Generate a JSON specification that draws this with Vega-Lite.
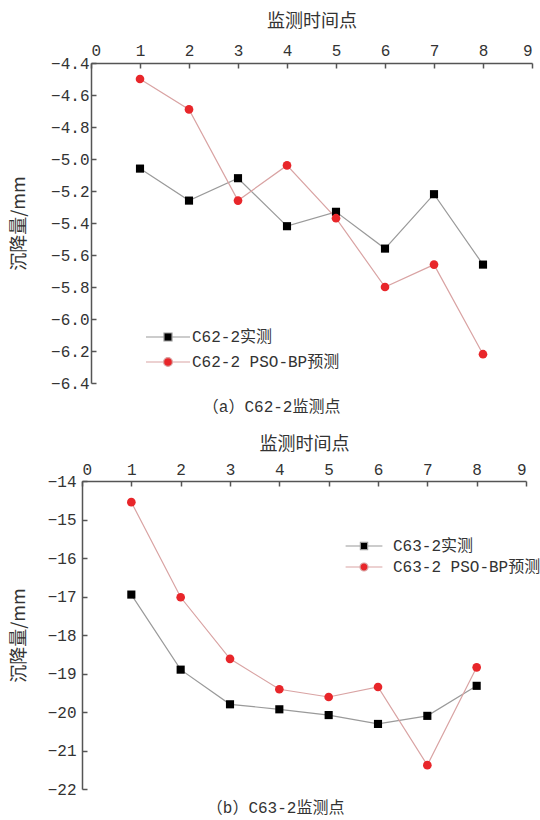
{
  "$schema": "https://vega.github.io/schema/vega-lite/v6.json",
  "background": "white",
  "padding": {"left": 10, "top": 12, "right": 0, "bottom": 0},
  "config": {
    "font": "Liberation Mono, Noto Sans CJK SC",
    "view": {"stroke": null},
    "axis": {
      "grid": false,
      "domainColor": "#555555",
      "domainWidth": 1.5,
      "tickColor": "#555555",
      "tickWidth": 1.5,
      "tickSize": -5,
      "labelFont": "Liberation Mono, Noto Sans CJK SC",
      "labelFontSize": 16,
      "labelColor": "#333333",
      "titleFont": "Noto Sans CJK SC",
      "titleFontSize": 18,
      "titleFontWeight": "normal",
      "titleColor": "#333333"
    },
    "legend": {
      "orient": "none",
      "padding": 0,
      "symbolSize": 256,
      "symbolOpacity": 1,
      "symbolStrokeWidth": 1.2,
      "labelFont": "Liberation Mono, Noto Sans CJK SC",
      "labelFontSize": 16,
      "labelColor": "#333333"
    },
    "title": {
      "font": "Liberation Mono, Noto Sans CJK SC",
      "fontSize": 16,
      "fontWeight": "normal",
      "color": "#333333"
    }
  },
  "columns": 1,
  "align": "none",
  "spacing": 20,
  "resolve": {"scale": {"color": "independent", "shape": "independent", "stroke": "independent"}, "legend": {"color": "independent", "shape": "independent", "stroke": "independent"}},
  "concat": [
    {
      "width": 441,
      "height": 320,
      "title": {"text": "（a）C62-2监测点", "orient": "bottom", "frame": "bounds", "anchor": "middle", "offset": 8},
      "data": {
        "values": [
          {"t": 1, "v": -5.06, "s": "C62-2实测"},
          {"t": 2, "v": -5.26, "s": "C62-2实测"},
          {"t": 3, "v": -5.12, "s": "C62-2实测"},
          {"t": 4, "v": -5.42, "s": "C62-2实测"},
          {"t": 5, "v": -5.33, "s": "C62-2实测"},
          {"t": 6, "v": -5.56, "s": "C62-2实测"},
          {"t": 7, "v": -5.22, "s": "C62-2实测"},
          {"t": 8, "v": -5.66, "s": "C62-2实测"},
          {"t": 1, "v": -4.50, "s": "C62-2 PSO-BP预测"},
          {"t": 2, "v": -4.69, "s": "C62-2 PSO-BP预测"},
          {"t": 3, "v": -5.26, "s": "C62-2 PSO-BP预测"},
          {"t": 4, "v": -5.04, "s": "C62-2 PSO-BP预测"},
          {"t": 5, "v": -5.37, "s": "C62-2 PSO-BP预测"},
          {"t": 6, "v": -5.80, "s": "C62-2 PSO-BP预测"},
          {"t": 7, "v": -5.66, "s": "C62-2 PSO-BP预测"},
          {"t": 8, "v": -6.22, "s": "C62-2 PSO-BP预测"}
        ]
      },
      "encoding": {
        "x": {
          "field": "t", "type": "quantitative",
          "scale": {"domain": [0, 9], "nice": false, "zero": false},
          "axis": {"orient": "top", "title": "监测时间点", "values": [0, 1, 2, 3, 4, 5, 6, 7, 8, 9], "format": "d", "labelPadding": 10, "titlePadding": 12}
        },
        "y": {
          "field": "v", "type": "quantitative",
          "scale": {"domain": [-6.4, -4.4], "nice": false, "zero": false},
          "axis": {"title": "沉降量/mm", "values": [-6.4, -6.2, -6.0, -5.8, -5.6, -5.4, -5.2, -5.0, -4.8, -4.6, -4.4], "format": ".1f", "labelPadding": 7, "titlePadding": 22}
        }
      },
      "layer": [
        {
          "mark": {"type": "line", "strokeWidth": 1.2},
          "encoding": {
            "stroke": {"field": "s", "type": "nominal", "scale": {"domain": ["C62-2实测", "C62-2 PSO-BP预测"], "range": ["#9a9a9a", "#d9a3a3"]}}
          }
        },
        {
          "transform": [{"filter": {"field": "s", "equal": "C62-2实测"}}],
          "mark": {"type": "point", "shape": "square", "filled": true, "opacity": 1, "size": 66, "color": "#000000"}
        },
        {
          "transform": [{"filter": {"field": "s", "equal": "C62-2 PSO-BP预测"}}],
          "mark": {"type": "point", "shape": "circle", "filled": true, "opacity": 1, "size": 75, "color": "#e8262a"}
        },
        {
          "mark": {"type": "point", "filled": true, "opacity": 0},
          "encoding": {
            "color": {
              "field": "s", "type": "nominal",
              "scale": {"domain": ["C62-2实测", "C62-2 PSO-BP预测"], "range": ["#000000", "#e8262a"]},
              "legend": {"title": null, "legendX": 68, "legendY": 265, "rowPadding": 8, "labelOffset": 15, "symbolOpacity": 1, "symbolStrokeWidth": 1.2}
            },
            "shape": {
              "field": "s", "type": "nominal",
              "scale": {"domain": ["C62-2实测", "C62-2 PSO-BP预测"], "range": ["M-2.75,0H-0.5M0.5,0H2.75M-0.5,-0.5H0.5V0.5H-0.5Z", "M-2.75,0H-0.55M0.55,0H2.75M-0.55,0A0.55,0.55 0 1,1 0.55,0A0.55,0.55 0 1,1 -0.55,0Z"]}
            },
            "stroke": {"field": "s", "type": "nominal"}
          }
        }
      ]
    },
    {
      "width": 435,
      "height": 308,
      "title": {"text": "（b）C63-2监测点", "orient": "bottom", "frame": "bounds", "anchor": "middle", "offset": 3},
      "data": {
        "values": [
          {"t": 1, "v": -16.95, "s": "C63-2实测"},
          {"t": 2, "v": -18.90, "s": "C63-2实测"},
          {"t": 3, "v": -19.80, "s": "C63-2实测"},
          {"t": 4, "v": -19.93, "s": "C63-2实测"},
          {"t": 5, "v": -20.08, "s": "C63-2实测"},
          {"t": 6, "v": -20.31, "s": "C63-2实测"},
          {"t": 7, "v": -20.10, "s": "C63-2实测"},
          {"t": 8, "v": -19.32, "s": "C63-2实测"},
          {"t": 1, "v": -14.55, "s": "C63-2 PSO-BP预测"},
          {"t": 2, "v": -17.02, "s": "C63-2 PSO-BP预测"},
          {"t": 3, "v": -18.62, "s": "C63-2 PSO-BP预测"},
          {"t": 4, "v": -19.41, "s": "C63-2 PSO-BP预测"},
          {"t": 5, "v": -19.61, "s": "C63-2 PSO-BP预测"},
          {"t": 6, "v": -19.35, "s": "C63-2 PSO-BP预测"},
          {"t": 7, "v": -21.38, "s": "C63-2 PSO-BP预测"},
          {"t": 8, "v": -18.84, "s": "C63-2 PSO-BP预测"}
        ]
      },
      "encoding": {
        "x": {
          "field": "t", "type": "quantitative",
          "scale": {"domain": [0, 9], "nice": false, "zero": false, "range": [-9, 435]},
          "axis": {"orient": "top", "title": "监测时间点", "values": [0, 1, 2, 3, 4, 5, 6, 7, 8, 9], "format": "d", "labelPadding": 9, "titlePadding": 8}
        },
        "y": {
          "field": "v", "type": "quantitative",
          "scale": {"domain": [-22, -14], "nice": false, "zero": false},
          "axis": {"title": "沉降量/mm", "values": [-22, -21, -20, -19, -18, -17, -16, -15, -14], "format": "d", "offset": 9, "labelPadding": 11, "titlePadding": 19}
        }
      },
      "layer": [
        {
          "mark": {"type": "line", "strokeWidth": 1.2},
          "encoding": {
            "stroke": {"field": "s", "type": "nominal", "scale": {"domain": ["C63-2实测", "C63-2 PSO-BP预测"], "range": ["#9a9a9a", "#d9a3a3"]}}
          }
        },
        {
          "transform": [{"filter": {"field": "s", "equal": "C63-2实测"}}],
          "mark": {"type": "point", "shape": "square", "filled": true, "opacity": 1, "size": 66, "color": "#000000"}
        },
        {
          "transform": [{"filter": {"field": "s", "equal": "C63-2 PSO-BP预测"}}],
          "mark": {"type": "point", "shape": "circle", "filled": true, "opacity": 1, "size": 75, "color": "#e8262a"}
        },
        {
          "mark": {"type": "point", "filled": true, "opacity": 0},
          "encoding": {
            "color": {
              "field": "s", "type": "nominal",
              "scale": {"domain": ["C63-2实测", "C63-2 PSO-BP预测"], "range": ["#000000", "#e8262a"]},
              "legend": {"title": null, "legendX": 264, "legendY": 56, "rowPadding": 4, "labelOffset": 20, "symbolOpacity": 1, "symbolStrokeWidth": 1.2}
            },
            "shape": {
              "field": "s", "type": "nominal",
              "scale": {"domain": ["C63-2实测", "C63-2 PSO-BP预测"], "range": ["M-2.3,0H-0.45M0.45,0H2.3M-0.45,-0.45H0.45V0.45H-0.45Z", "M-2.3,0H-0.5M0.5,0H2.3M-0.5,0A0.5,0.5 0 1,1 0.5,0A0.5,0.5 0 1,1 -0.5,0Z"]}
            },
            "stroke": {"field": "s", "type": "nominal"}
          }
        }
      ]
    }
  ]
}
